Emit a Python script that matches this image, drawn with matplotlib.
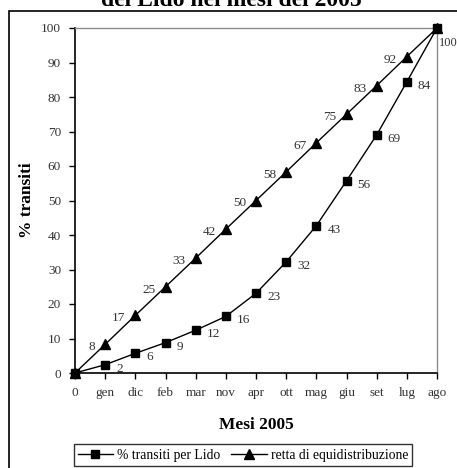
import matplotlib
matplotlib.use("Agg")
import matplotlib.pyplot as plt
from matplotlib.patches import Rectangle

plt.rcParams['font.family'] = ['Liberation Serif', 'DejaVu Serif']

months = ["0", "gen", "dic", "feb", "mar", "nov", "apr", "ott", "mag", "giu", "set", "lug", "ago"]
transiti_lido = [0, 2.4, 5.7, 8.8, 12.4, 16.4, 23.1, 32.2, 42.7, 55.7, 69.0, 84.4, 100]
equidistribuzione = [0, 8.3, 16.7, 25.0, 33.3, 41.7, 50.0, 58.3, 66.7, 75.0, 83.3, 91.7, 100]
yticks = [0, 10, 20, 30, 40, 50, 60, 70, 80, 90, 100]

W, H = 457, 468
fig = plt.figure(figsize=(W / 100, H / 100), dpi=100)
ax = fig.add_axes([75 / W, (H - 373) / H, (437 - 75) / W, (373 - 28) / H])

x = list(range(len(months)))
ax.plot(x, transiti_lido, color='black', lw=1.0, marker='s', ms=5.5,
        label='% transiti per Lido', clip_on=False, zorder=3)
ax.plot(x, equidistribuzione, color='black', lw=1.0, marker='^', ms=6.5,
        label='retta di equidistribuzione', clip_on=False, zorder=3)

LFS = 9.5
for xi, v in zip(x, transiti_lido):
    if v == 0:
        continue
    if v == 100:
        ax.annotate("%.0f" % v, (xi, v), xytext=(2, -15), textcoords='offset pixels',
                    ha='left', va='center', fontsize=9, color='#333333')
    else:
        ax.annotate("%.0f" % v, (xi, v), xytext=(11, -4), textcoords='offset pixels',
                    ha='left', va='center', fontsize=LFS, color='#333333')
for xi, v in zip(x, equidistribuzione):
    if v == 0 or v == 100:
        continue
    ax.annotate("%.0f" % v, (xi, v), xytext=(-10, -3), textcoords='offset pixels',
                ha='right', va='center', fontsize=LFS, color='#333333')

ax.set_xlim(0, len(months) - 1)
ax.set_ylim(0, 100)
ax.set_xticks(x)
ax.set_xticklabels(months, fontsize=9.5, color='#333333')
ax.set_yticks(yticks)
ax.set_yticklabels([str(t) for t in yticks], fontsize=9.5, color='#333333')
ax.tick_params(axis='both', direction='out', length=4, width=1, color='black', pad=6)

for s in ['left', 'bottom']:
    ax.spines[s].set_color('black')
    ax.spines[s].set_linewidth(1.2)
for s in ['top', 'right']:
    ax.spines[s].set_color('#8c8c8c')
    ax.spines[s].set_linewidth(1.0)

fig.text(256 / W, 1 - 425 / H, 'Mesi 2005', ha='center', va='center',
         fontsize=12.5, fontweight='bold')
fig.text(27 / W, 1 - 200 / H, '% transiti', ha='center', va='center', rotation=90,
         fontsize=12.5, fontweight='bold')

fig.text(231 / W, 1 - 6 / H, 'Distribuzione dei transiti\ndel Lido nei mesi del 2005',
         ha='center', va='baseline', fontsize=17, fontweight='bold', linespacing=1.1)

leg = fig.legend(loc='center', bbox_to_anchor=(243 / W, 1 - 455 / H), ncol=2,
                 frameon=True, fancybox=False, edgecolor='black', fontsize=9.8,
                 handlelength=2.6, handletextpad=0.3, columnspacing=0.8,
                 borderpad=0.3)
leg.get_frame().set_linewidth(1.0)

fig.patches.append(Rectangle((8.5 / W, -0.2), 1.2, 1 - 10.5 / H + 0.2,
                             transform=fig.transFigure, fill=False,
                             edgecolor='black', lw=1.2))

fig.savefig('out.png', dpi=100)
